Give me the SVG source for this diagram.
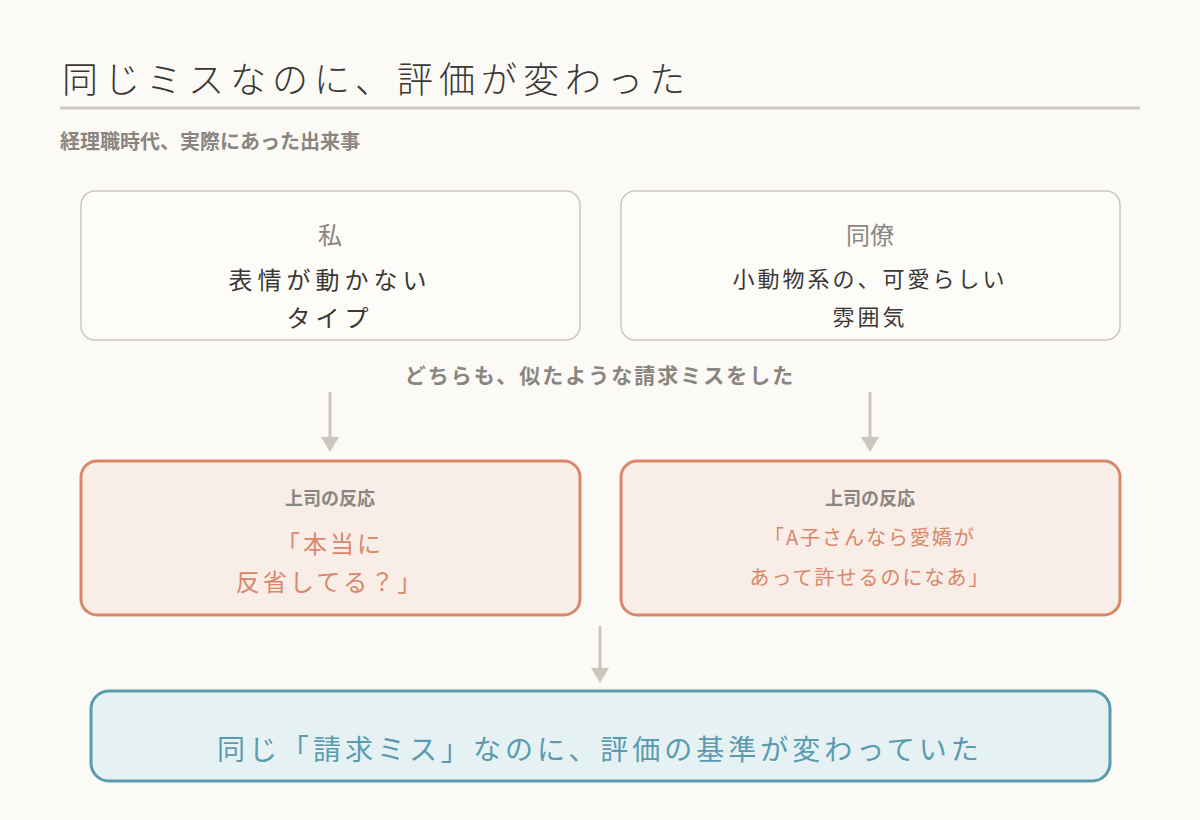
<svg xmlns="http://www.w3.org/2000/svg" width="1200" height="820" viewBox="0 0 1200 820">
<style>
text{font-family:"Noto Sans CJK JP","Noto Sans",sans-serif;text-anchor:middle}
.g{fill:#8a8580}
.b{font-weight:700}
.d{fill:#3a3835}
.o{fill:#d9876a}
.card{fill:#fdfcf9;stroke:#cdc8c0;stroke-width:1.5}
.re{fill:#f8ede7;stroke:#d9876a;stroke-width:3}
.ar{stroke:#cdc6bc;stroke-width:3;fill:none}
.ah{fill:#cdc6bc}
</style>
<rect width="1200" height="820" fill="#fcfaf6"/>
<text x="62" y="93" style="text-anchor:start;font-size:36px;letter-spacing:6px;font-weight:300" class="d">同じミスなのに、評価が変わった</text>
<line x1="60" y1="108" x2="1140" y2="108" stroke="#cdc8c0" stroke-width="3"/>
<text x="60" y="149" style="text-anchor:start;font-size:20px" class="g b">経理職時代、実際にあった出来事</text>
<g id="me">
<rect class="card" x="81" y="191" width="499" height="149" rx="14"/>
<text x="330" y="244" class="g" style="font-size:24px">私</text>
<text x="330" y="289" class="d" style="font-size:24px;letter-spacing:5px">表情が動かない</text>
<text x="330" y="327" class="d" style="font-size:24px;letter-spacing:5px">タイプ</text>
</g>
<g id="colleague">
<rect class="card" x="621" y="191" width="499" height="149" rx="14"/>
<text x="870" y="244" class="g" style="font-size:24px">同僚</text>
<text x="870" y="287" class="d" style="font-size:22px;letter-spacing:3px">小動物系の、可愛らしい</text>
<text x="870" y="325" class="d" style="font-size:22px;letter-spacing:3px">雰囲気</text>
</g>
<text x="600" y="383" class="g b" style="font-size:21px;letter-spacing:2px">どちらも、似たような請求ミスをした</text>
<g id="connectors">
<line class="ar" x1="330" y1="392" x2="330" y2="440"/><polygon class="ah" points="321,437 339,437 330,452"/>
<line class="ar" x1="870" y1="392" x2="870" y2="440"/><polygon class="ah" points="861,437 879,437 870,452"/>
<line class="ar" x1="600" y1="626" x2="600" y2="671"/><polygon class="ah" points="591,668 609,668 600,683"/>
</g>
<g id="boss1">
<rect class="re" x="81" y="461" width="499" height="154" rx="16"/>
<text x="330" y="505" class="g b" style="font-size:18px">上司の反応</text>
<text x="330" y="553" class="o" style="font-size:24px;letter-spacing:3px">「本当に</text>
<text x="330" y="591" class="o" style="font-size:24px;letter-spacing:3px">反省してる？」</text>
</g>
<g id="boss2">
<rect class="re" x="621" y="461" width="499" height="154" rx="16"/>
<text x="870" y="505" class="g b" style="font-size:18px">上司の反応</text>
<text x="870" y="545" class="o" style="font-size:20px;letter-spacing:2px">「A子さんなら愛嬌が</text>
<text x="870" y="585" class="o" style="font-size:20px;letter-spacing:2px">あって許せるのになあ」</text>
</g>
<g id="conclusion">
<rect x="91" y="691" width="1019" height="90" rx="18" fill="#e6f1f4" stroke="#5a9bb0" stroke-width="3"/>
<text x="600" y="760" style="font-size:28px;letter-spacing:4px;fill:#5a9bb0">同じ「請求ミス」なのに、評価の基準が変わっていた</text>
</g>
</svg>
